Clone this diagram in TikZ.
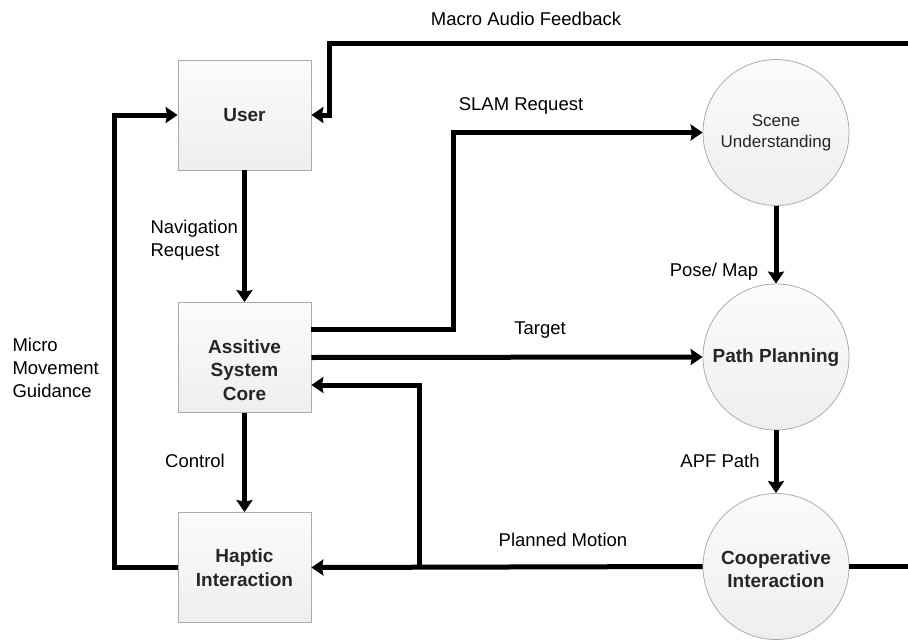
\documentclass[tikz,border=0pt]{standalone}
\usepackage{fontspec}
\setmainfont{Liberation Sans}
\usetikzlibrary{arrows.meta,positioning,calc}

\begin{document}
\begin{tikzpicture}[x=1pt,y=-1pt]
		\tikzset{
			block/.style={draw=gray!65, line width=0.8pt, top color=gray!3, bottom color=gray!13,
				minimum width=133pt, minimum height=110pt, align=center,
				font=\fontsize{19}{23.5}\selectfont\bfseries, text=black!85},
			stage/.style={circle, draw=gray!65, line width=0.8pt, top color=gray!3, bottom color=gray!13,
				minimum size=146pt, inner sep=0pt, align=center,
				font=\fontsize{19}{23}\selectfont\bfseries, text=black!85},
			boldtext/.style={align=center, font=\fontsize{19}{23.5}\selectfont\bfseries, text=black!85},
			flow/.style={line width=5pt, -{Stealth[length=12pt,width=16pt,inset=1.5pt]}},
			tag/.style={font=\fontsize{18.5}{23}\selectfont, text=black}
		}
		\useasboundingbox (0,0) rectangle (908,640);
		% blocks
		\node [block] (user) at (244.5,115) {User};
		\node [block] (core) at (244.5,357.5) {};
		\node [boldtext] (coretext) at (244.5,370) {Assitive\\System\\Core};
		\node [block] (haptic) at (244.5,567.5) {Haptic\\Interaction};
		\node [stage, font=\fontsize{17}{21}\selectfont] (scene) at (776,132.5) {Scene\\Understanding};
		\node [stage] (path) at (776,357) {};
		\node [boldtext] (pathtext) at (776,358) {Path Planning};
		\node [stage] (coop) at (776,566.5) {};
		\node [boldtext] (cooptext) at (776,569) {Cooperative\\Interaction};
		% helper points
		\coordinate (slamcorner) at (453,132.5);
		\coordinate (feedright) at (912,43);
		\coordinate (feeddrop) at (329,43);
		\coordinate (motionsplit) at (419,567.5);
		% connectors
		\draw [flow] (user) -- (core);
		\draw [flow] (core) -- (haptic);
		\draw [flow] (scene) -- (path);
		\draw [flow] (path) -- (coop);
		\draw [flow] (core.east) -- (path.west);
		\draw [flow] ([yshift=28.5pt]core.east) -| (slamcorner) -- (scene.west);
		\draw [flow] (coop.west) -- (haptic.east);
		\draw [flow] (motionsplit) |- ([yshift=-27.5pt]core.east);
		\draw [flow] (haptic.west) -- ++(-63,0) |- (user.west);
		\draw [flow] (coop.east) -| (feedright) -- (feeddrop) |- (user.east);
		% labels
		\node [tag] (feedlbl) at (526,19) {Macro Audio Feedback};
		\node [tag] (slamlbl) at (521,106) {SLAM Request};
		\node [tag, anchor=west, align=left] (navlbl) at (147,240) {Navigation\\Request};
		\node [tag] (targetlbl) at (540,330) {Target};
		\node [tag] (controllbl) at (195,461) {Control};
		\node [tag, anchor=west, align=left] (microlbl) at (9,368) {Micro\\Movement\\Guidance};
		\node [tag] (poselbl) at (714,272) {Pose/ Map};
		\node [tag] (apflbl) at (720,461) {APF Path};
		\node [tag] (motionlbl) at (563,540) {Planned Motion};
	\end{tikzpicture}
\end{document}
